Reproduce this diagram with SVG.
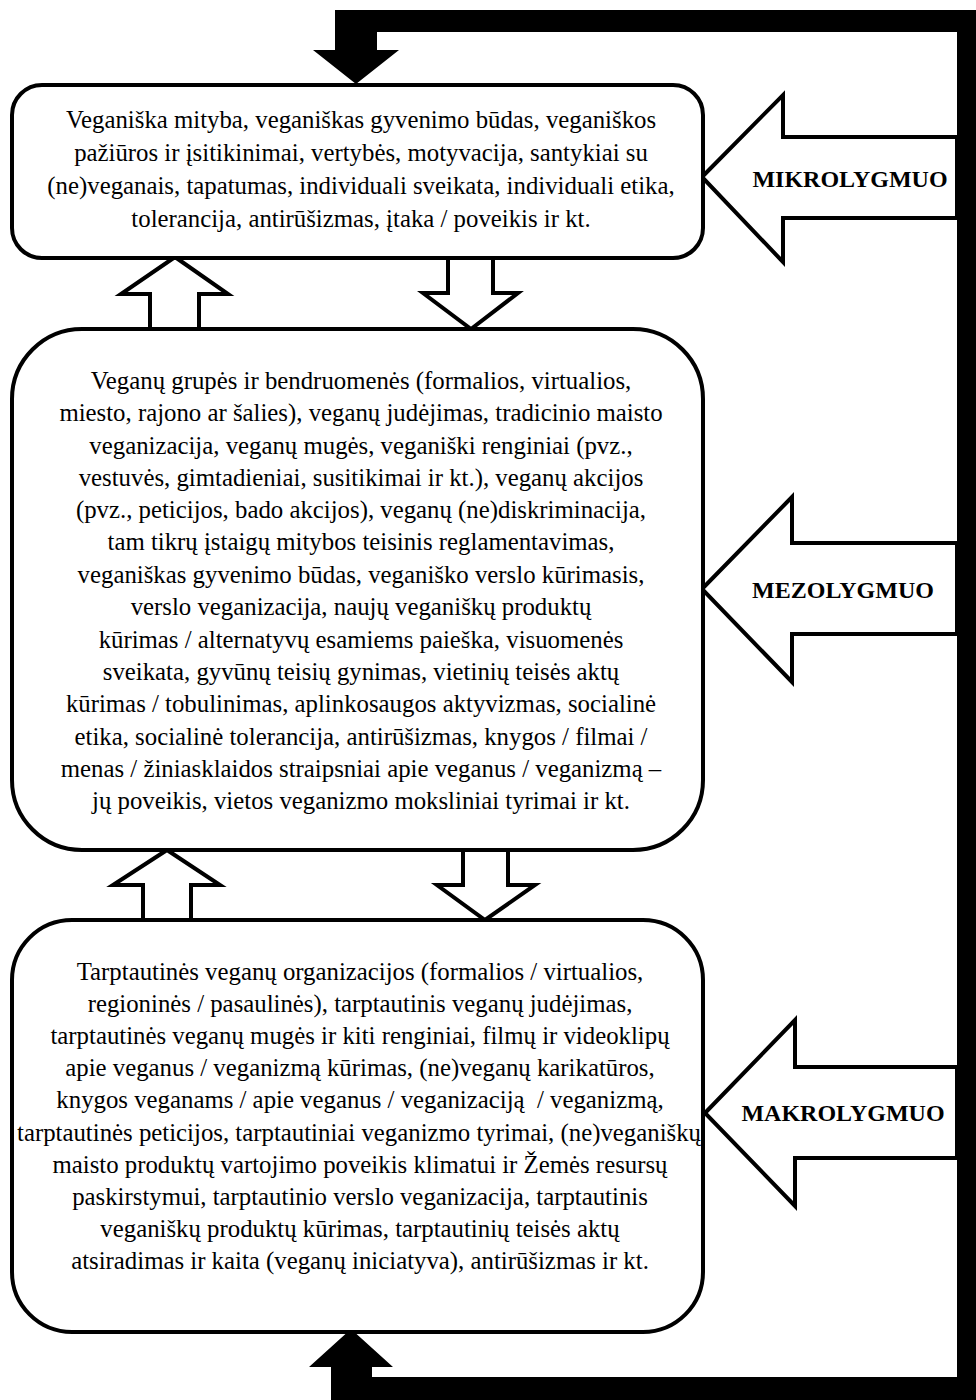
<svg xmlns="http://www.w3.org/2000/svg" width="976" height="1400" viewBox="0 0 976 1400">
<style>
.box{fill:#fff;stroke:#000;stroke-width:4}
.blk{fill:#fff;stroke:#000;stroke-width:4;stroke-linejoin:miter}
.fb{fill:#000;stroke:none}
.t{font-family:"Liberation Serif","Times New Roman",serif;font-size:24.8px;fill:#000;text-anchor:middle}
.lbl{font-family:"Liberation Serif","Times New Roman",serif;font-size:24px;font-weight:bold;fill:#000;text-anchor:middle}
</style>
<rect width="976" height="1400" fill="#fff"/>
<g id="connectors">
<path class="fb" d="M335,50 L335,10 L976,10 L976,1400 L331,1400 L331,1367 L309,1367 L351,1329 L393,1367 L372,1367 L372,1377 L957,1377 L957,32 L377,32 L377,50 L399,50 L356,84 L313,50 Z"/>
<polygon class="blk" points="702,177 783,95 783,137 957,137 957,218 783,218 783,262"/>
<polygon class="blk" points="702,589 792,497 792,543 957,543 957,634 792,634 792,682"/>
<polygon class="blk" points="705,1113 795,1020 795,1067 957,1067 957,1158 795,1158 795,1206"/>
<polygon class="blk" points="175,257 228,294 199,294 199,329 150,329 150,294 121,294"/>
<polygon class="blk" points="448,257 493,257 493,293 518,293 471,329 423,293 448,293"/>
<polygon class="blk" points="167,850 220,885 191,885 191,920 143,920 143,885 113,885"/>
<polygon class="blk" points="463,850 508,850 508,885 535,885 485,920 437,885 463,885"/>
<text class="lbl" x="850" y="187">MIKROLYGMUO</text>
<text class="lbl" x="843" y="598">MEZOLYGMUO</text>
<text class="lbl" x="843" y="1121">MAKROLYGMUO</text>
</g>
<g id="mikro">
<rect class="box" x="12" y="85" width="691" height="173" rx="30"/>
<text class="t" x="361" y="128">Veganiška mityba, veganiškas gyvenimo būdas, veganiškos</text>
<text class="t" x="361" y="161">pažiūros ir įsitikinimai, vertybės, motyvacija, santykiai su</text>
<text class="t" x="361" y="194">(ne)veganais, tapatumas, individuali sveikata, individuali etika,</text>
<text class="t" x="361" y="227">tolerancija, antirūšizmas, įtaka / poveikis ir kt.</text>
</g>
<g id="mezo">
<rect class="box" x="12" y="329" width="691" height="521" rx="70"/>
<text class="t" x="361" y="389">Veganų grupės ir bendruomenės (formalios, virtualios,</text>
<text class="t" x="361" y="421">miesto, rajono ar šalies), veganų judėjimas, tradicinio maisto</text>
<text class="t" x="361" y="454">veganizacija, veganų mugės, veganiški renginiai (pvz.,</text>
<text class="t" x="361" y="486">vestuvės, gimtadieniai, susitikimai ir kt.), veganų akcijos</text>
<text class="t" x="361" y="518">(pvz., peticijos, bado akcijos), veganų (ne)diskriminacija,</text>
<text class="t" x="361" y="550">tam tikrų įstaigų mitybos teisinis reglamentavimas,</text>
<text class="t" x="361" y="583">veganiškas gyvenimo būdas, veganiško verslo kūrimasis,</text>
<text class="t" x="361" y="615">verslo veganizacija, naujų veganiškų produktų</text>
<text class="t" x="361" y="648">kūrimas / alternatyvų esamiems paieška, visuomenės</text>
<text class="t" x="361" y="680">sveikata, gyvūnų teisių gynimas, vietinių teisės aktų</text>
<text class="t" x="361" y="712">kūrimas / tobulinimas, aplinkosaugos aktyvizmas, socialinė</text>
<text class="t" x="361" y="745">etika, socialinė tolerancija, antirūšizmas, knygos / filmai /</text>
<text class="t" x="361" y="777">menas / žiniasklaidos straipsniai apie veganus / veganizmą –</text>
<text class="t" x="361" y="809">jų poveikis, vietos veganizmo moksliniai tyrimai ir kt.</text>
</g>
<g id="makro">
<rect class="box" x="12" y="920" width="691" height="412" rx="60"/>
<text class="t" x="360" y="980">Tarptautinės veganų organizacijos (formalios / virtualios,</text>
<text class="t" x="360" y="1012">regioninės / pasaulinės), tarptautinis veganų judėjimas,</text>
<text class="t" x="360" y="1044">tarptautinės veganų mugės ir kiti renginiai, filmų ir videoklipų</text>
<text class="t" x="360" y="1076">apie veganus / veganizmą kūrimas, (ne)veganų karikatūros,</text>
<text class="t" x="360" y="1108" xml:space="preserve">knygos veganams / apie veganus / veganizaciją  / veganizmą,</text>
<text class="t" x="359" y="1141" textLength="684" lengthAdjust="spacingAndGlyphs">tarptautinės peticijos, tarptautiniai veganizmo tyrimai, (ne)veganiškų</text>
<text class="t" x="360" y="1173">maisto produktų vartojimo poveikis klimatui ir Žemės resursų</text>
<text class="t" x="360" y="1205">paskirstymui, tarptautinio verslo veganizacija, tarptautinis</text>
<text class="t" x="360" y="1237">veganiškų produktų kūrimas, tarptautinių teisės aktų</text>
<text class="t" x="360" y="1269">atsiradimas ir kaita (veganų iniciatyva), antirūšizmas ir kt.</text>
</g>
</svg>
